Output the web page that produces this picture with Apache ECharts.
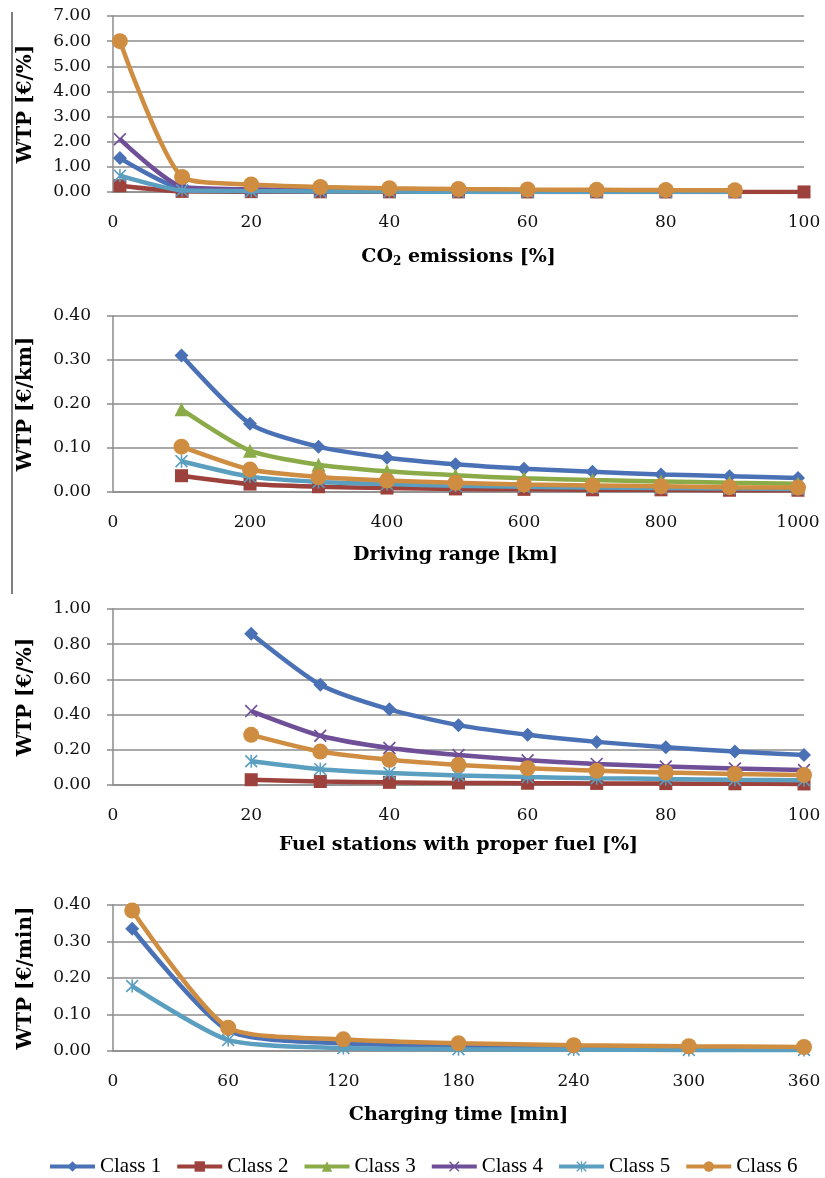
<!DOCTYPE html>
<html>
<head>
<meta charset="utf-8">
<script src="https://cdn.jsdelivr.net/npm/echarts@6/dist/echarts.min.js"></script>
<style>
html,body{margin:0;padding:0;background:#fff;}
#chart{width:825px;height:1178px;}
</style>
</head>
<body>
<div id="chart"></div>
<script>
// ---------- DATA ----------
const classNames = ['Class 1', 'Class 2', 'Class 3', 'Class 4', 'Class 5', 'Class 6'];

// Panel 1: CO2 emissions [%]
const co2X = [1, 10, 20, 30, 40, 50, 60, 70, 80, 90, 100];
const co2Class1 = [1.35, 0.135, 0.068, 0.045, 0.034, 0.027, 0.023, 0.019, 0.017, 0.015];
const co2Class2 = [0.25, 0.025, 0.013, 0.008, 0.006, 0.005, 0.004, 0.004, 0.003, 0.003, 0.003];
const co2Class4 = [2.1, 0.21, 0.105, 0.07, 0.053, 0.042, 0.035, 0.03, 0.026, 0.023];
const co2Class5 = [0.65, 0.065, 0.033, 0.022, 0.016, 0.013, 0.011, 0.009, 0.008, 0.007];
const co2Class6 = [6.0, 0.6, 0.3, 0.2, 0.15, 0.12, 0.1, 0.086, 0.075, 0.067];

// Panel 2: Driving range [km]
const rangeX = [100, 200, 300, 400, 500, 600, 700, 800, 900, 1000];
const rangeClass1 = [0.31, 0.155, 0.103, 0.078, 0.063, 0.053, 0.046, 0.040, 0.036, 0.032];
const rangeClass2 = [0.037, 0.018, 0.012, 0.009, 0.007, 0.006, 0.005, 0.005, 0.004, 0.004];
const rangeClass3 = [0.188, 0.094, 0.062, 0.047, 0.038, 0.031, 0.027, 0.024, 0.021, 0.019];
const rangeClass5 = [0.07, 0.035, 0.023, 0.018, 0.014, 0.012, 0.010, 0.009, 0.008, 0.007];
const rangeClass6 = [0.103, 0.051, 0.034, 0.026, 0.021, 0.017, 0.015, 0.013, 0.011, 0.010];

// Panel 3: Fuel stations with proper fuel [%]
const fuelX = [20, 30, 40, 50, 60, 70, 80, 90, 100];
const fuelClass1 = [0.86, 0.57, 0.43, 0.34, 0.285, 0.245, 0.215, 0.19, 0.17];
const fuelClass2 = [0.03, 0.02, 0.015, 0.012, 0.01, 0.009, 0.008, 0.007, 0.006];
const fuelClass4 = [0.42, 0.28, 0.21, 0.17, 0.14, 0.12, 0.105, 0.094, 0.085];
const fuelClass5 = [0.135, 0.09, 0.068, 0.054, 0.045, 0.039, 0.034, 0.030, 0.027];
const fuelClass6 = [0.285, 0.19, 0.143, 0.114, 0.095, 0.081, 0.071, 0.063, 0.057];

// Panel 4: Charging time [min]
const chargeX = [10, 60, 120, 180, 240, 300, 360];
const chargeClass1 = [0.335, 0.056, 0.021, 0.014, 0.010, 0.008, 0.007];
const chargeClass5 = [0.178, 0.030, 0.008, 0.005, 0.004, 0.003, 0.003];
const chargeClass6 = [0.385, 0.064, 0.032, 0.021, 0.016, 0.013, 0.011];

// ---------- STYLE ----------
const FONT = 'DejaVu Serif';
const colors = {
  'Class 1': '#4a71b6', 'Class 2': '#9c413b', 'Class 3': '#8bab48',
  'Class 4': '#6f4f98', 'Class 5': '#5a9ec0', 'Class 6': '#cf8d42'
};
const X_PATH = 'path://M0,0.9 L0.9,0 L5,4.1 L9.1,0 L10,0.9 L5.9,5 L10,9.1 L9.1,10 L5,5.9 L0.9,10 L0,9.1 L4.1,5 Z';
const STAR_PATH = 'path://M0,0.9 L0.9,0 L5,4.1 L9.1,0 L10,0.9 L5.9,5 L10,9.1 L9.1,10 L5,5.9 L0.9,10 L0,9.1 L4.1,5 Z M4.4,0 L5.6,0 L5.6,10 L4.4,10 Z';
const symbols = {
  'Class 1': ['diamond', 14], 'Class 2': ['rect', 13], 'Class 3': ['triangle', 14],
  'Class 4': [X_PATH, 13], 'Class 5': [STAR_PATH, 13], 'Class 6': ['circle', 16]
};

function pairs(xs, ys) { return ys.map((v, i) => [xs[i], v]); }
function mkSeries(name, idx, xs, ys) {
  return {
    type: 'line', name: name, xAxisIndex: idx, yAxisIndex: idx,
    data: pairs(xs, ys), smooth: 0.22,
    symbol: symbols[name][0], symbolSize: symbols[name][1],
    showAllSymbol: true,
    lineStyle: { color: colors[name], width: 4.5 },
    itemStyle: { color: colors[name] },
    emphasis: { disabled: true },
    z: 2 + classNames.indexOf(name)
  };
}

const gridColor = '#8c8c8c';
const grids = [
  { left: 113, right: 21, top: 16, height: 176 },
  { left: 113, right: 27, top: 316, height: 176 },
  { left: 113, right: 21, top: 609, height: 176 },
  { left: 113, right: 21, top: 905, height: 146 }
];
const xSpecs = [
  { max: 100, interval: 20, name: '{a|CO}{s|2}{a| emissions [%]}', gap: 53 },
  { max: 1000, interval: 200, name: '{a|Driving range [km]}', gap: 51 },
  { max: 100, interval: 20, name: '{a|Fuel stations with proper fuel [%]}', gap: 48 },
  { max: 360, interval: 60, name: '{a|Charging time [min]}', gap: 52 }
];
const ySpecs = [
  { max: 7, interval: 1, name: 'WTP [€/%]' },
  { max: 0.4, interval: 0.1, name: 'WTP [€/km]' },
  { max: 1, interval: 0.2, name: 'WTP [€/%]' },
  { max: 0.4, interval: 0.1, name: 'WTP [€/min]' }
];

const richName = {
  a: { fontFamily: FONT, fontWeight: 'bold', fontSize: 19, color: '#000', lineHeight: 24 },
  s: { fontFamily: FONT, fontWeight: 'bold', fontSize: 12, color: '#000', lineHeight: 24, padding: [9, 0, 0, 0] }
};

const xAxes = xSpecs.map((s, i) => ({
  type: 'value', gridIndex: i, min: 0, max: s.max, interval: s.interval,
  name: s.name, nameLocation: 'middle', nameGap: s.gap,
  nameTextStyle: { rich: richName },
  axisLine: { show: true, lineStyle: { color: gridColor, width: 1.5 } },
  axisTick: { show: false },
  splitLine: { show: false },
  axisLabel: { fontFamily: FONT, fontSize: 17, color: '#111', margin: 22,
    formatter: v => String(v) }
}));
const yAxes = ySpecs.map((s, i) => ({
  type: 'value', gridIndex: i, min: 0, max: s.max, interval: s.interval,
  name: s.name, nameLocation: 'middle', nameGap: 77,
  nameTextStyle: { fontFamily: FONT, fontWeight: 'bold', fontSize: 20, color: '#000' },
  axisLine: { show: true, lineStyle: { color: gridColor, width: 1.5 } },
  axisTick: { show: true, length: 6, inside: false, lineStyle: { color: gridColor, width: 1.5 } },
  splitLine: { show: true, lineStyle: { color: gridColor, width: 1.5 } },
  axisLabel: { fontFamily: FONT, fontSize: 17, color: '#111', margin: 22,
    formatter: v => v.toFixed(2) }
}));

const series = [
  mkSeries('Class 1', 0, co2X, co2Class1),
  mkSeries('Class 2', 0, co2X, co2Class2),
  mkSeries('Class 4', 0, co2X, co2Class4),
  mkSeries('Class 5', 0, co2X, co2Class5),
  mkSeries('Class 6', 0, co2X, co2Class6),
  mkSeries('Class 1', 1, rangeX, rangeClass1),
  mkSeries('Class 2', 1, rangeX, rangeClass2),
  mkSeries('Class 3', 1, rangeX, rangeClass3),
  mkSeries('Class 5', 1, rangeX, rangeClass5),
  mkSeries('Class 6', 1, rangeX, rangeClass6),
  mkSeries('Class 1', 2, fuelX, fuelClass1),
  mkSeries('Class 2', 2, fuelX, fuelClass2),
  mkSeries('Class 4', 2, fuelX, fuelClass4),
  mkSeries('Class 5', 2, fuelX, fuelClass5),
  mkSeries('Class 6', 2, fuelX, fuelClass6),
  mkSeries('Class 1', 3, chargeX, chargeClass1),
  mkSeries('Class 5', 3, chargeX, chargeClass5),
  mkSeries('Class 6', 3, chargeX, chargeClass6)
];

const chart = echarts.init(document.getElementById('chart'), null, { renderer: 'canvas' });
chart.setOption({
  animation: false,
  backgroundColor: '#fff',
  grid: grids,
  xAxis: xAxes,
  yAxis: yAxes,
  legend: {
    data: classNames,
    left: 48, top: 1156, padding: 0,
    itemWidth: 45, itemHeight: 13, itemGap: 14,
    selectedMode: false,
    lineStyle: { width: 4 },
    textStyle: { fontFamily: 'Liberation Serif', fontSize: 21, color: '#000' }
  },
  graphic: [
    { type: 'line', shape: { x1: 12, y1: 12, x2: 12, y2: 594 },
      style: { stroke: '#555', lineWidth: 1.5 } }
  ],
  series: series
});
</script>
</body>
</html>
